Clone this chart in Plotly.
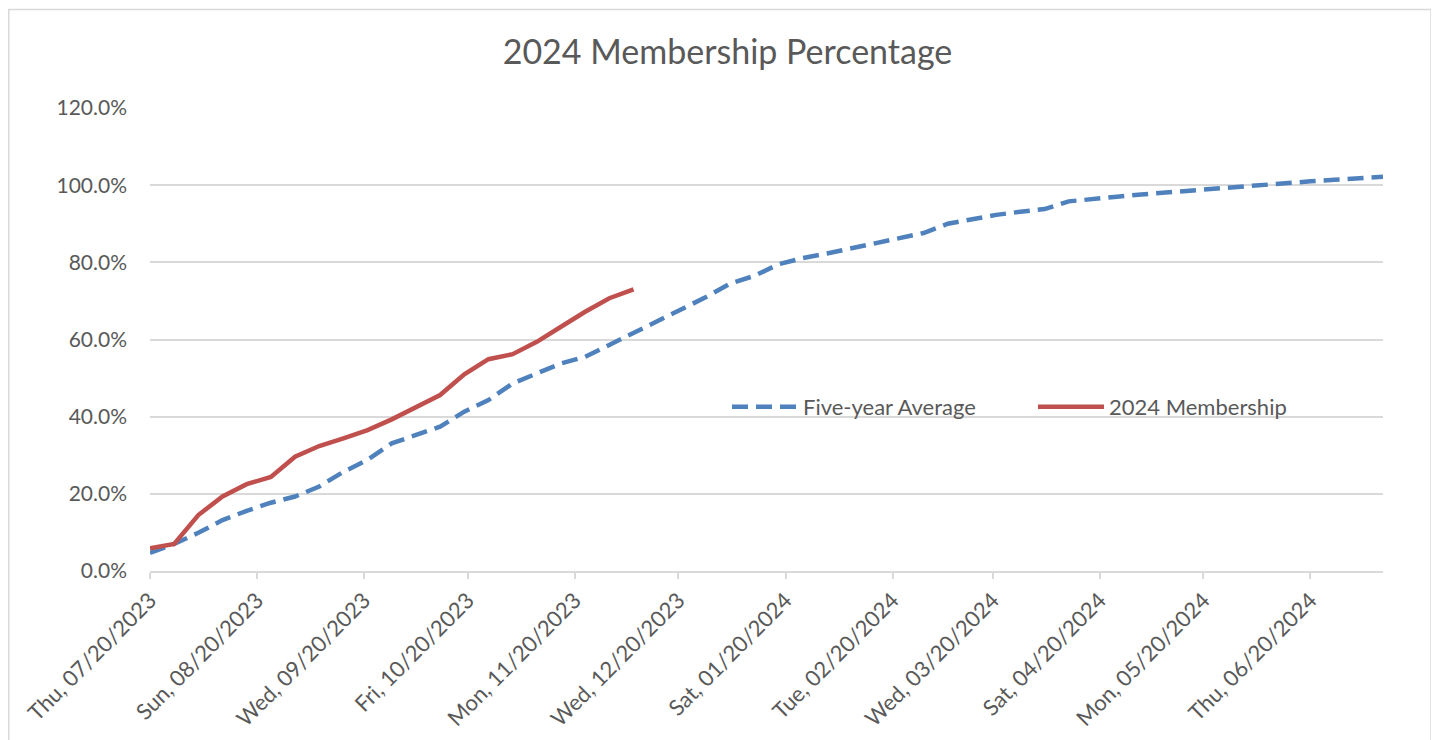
import pandas as pd
import plotly.graph_objects as go

# Weekly dates (Thursdays) from 07/20/2023
dates = pd.date_range("2023-07-20", periods=52, freq="7D")

five_year_avg = [
    4.7, 7.0, 9.9, 13.2, 15.6, 17.7, 19.3, 21.9, 25.7, 28.8,
    33.1, 35.2, 37.4, 41.3, 44.3, 48.6, 51.2, 53.8, 55.5, 58.6,
    61.6, 64.8, 68.0, 71.0, 74.5, 76.5, 79.5, 81.1, 82.3, 83.6,
    85.0, 86.3, 87.6, 90.0, 91.2, 92.3, 93.1, 93.8, 95.8, 96.5,
    97.0, 97.6, 98.1, 98.6, 99.0, 99.6, 100.2, 100.6, 101.0, 101.4,
    101.8, 102.2,
]

membership_2024 = [
    5.9, 7.0, 14.5, 19.3, 22.5, 24.4, 29.6, 32.4, 34.4, 36.5,
    39.3, 42.6, 45.6, 51.0, 54.9, 56.2, 59.4, 63.3, 67.2, 70.7,
    73.0,
]

tick_dates = [
    "2023-07-20", "2023-08-20", "2023-09-20", "2023-10-20", "2023-11-20",
    "2023-12-20", "2024-01-20", "2024-02-20", "2024-03-20", "2024-04-20",
    "2024-05-20", "2024-06-20",
]
tick_labels = [
    "Thu, 07/20/2023", "Sun, 08/20/2023", "Wed, 09/20/2023", "Fri, 10/20/2023",
    "Mon, 11/20/2023", "Wed, 12/20/2023", "Sat, 01/20/2024", "Tue, 02/20/2024",
    "Wed, 03/20/2024", "Sat, 04/20/2024", "Mon, 05/20/2024", "Thu, 06/20/2024",
]

y_ticks = [0, 20, 40, 60, 80, 100, 120]
y_labels = [f"{v:.1f}%" for v in y_ticks]

FONT = "Lato, 'Open Sans', sans-serif"
TXT = "#595959"
GRID = "#d9d9d9"

fig = go.Figure()
fig.add_trace(go.Scatter(
    x=dates, y=five_year_avg, mode="lines", name="Five-year Average",
    line=dict(color="#4F81BD", width=4.5, dash="16px,8px"),
))
fig.add_trace(go.Scatter(
    x=dates[:len(membership_2024)], y=membership_2024, mode="lines",
    name="2024 Membership",
    line=dict(color="#C0504D", width=4.5),
))

W, H = 1439, 740
OFF = 8  # page body margin offset
L, R, T, B = 150 - OFF, 1383 - OFF, 108 - OFF, 571 - OFF
pw, ph = R - L, B - T

def px_x(px):
    return (px - OFF - L) / pw

def px_y(py):
    return (B - (py - OFF)) / ph

fig.update_layout(
    width=W, height=H,
    margin=dict(l=L, r=W - R, t=T, b=H - B, autoexpand=False),
    paper_bgcolor="white", plot_bgcolor="white",
    font=dict(family=FONT, color=TXT, size=21),
    title=dict(text="2024 Membership Percentage", x=0.5, xanchor="center",
               y=1 - (52 - OFF) / H, yanchor="middle", yref="container",
               font=dict(size=34, color=TXT, family=FONT)),
    showlegend=True,
    legend=dict(orientation="h", x=px_x(727), y=px_y(407),
                xanchor="left", yanchor="middle", bgcolor="rgba(0,0,0,0)",
                font=dict(size=22, color=TXT, family=FONT),
                itemwidth=66,
                entrywidth=225, entrywidthmode="pixels",
                traceorder="normal"),
    xaxis=dict(
        type="date",
        range=[dates[0], dates[-1]],
        tickvals=tick_dates, ticktext=tick_labels, tickangle=-45,
        showgrid=False, showline=True, linecolor=GRID, linewidth=1.5,
        ticks="outside", ticklen=6, tickcolor=GRID, tickwidth=1.5,
        tickfont=dict(size=22, color=TXT, family=FONT),
        zeroline=False,
    ),
    yaxis=dict(
        range=[0, 120], tickvals=y_ticks, ticktext=y_labels,
        showgrid=True, gridcolor=GRID, gridwidth=1.5,
        showline=False, zeroline=False, ticks="", ticklabelstandoff=22,
        tickfont=dict(size=21, color=TXT, family=FONT),
    ),
    shapes=[dict(
        type="rect", xref="paper", yref="paper",
        x0=px_x(8.8), x1=px_x(1431),
        y0=px_y(760), y1=px_y(9.5),
        line=dict(color=GRID, width=1.5), fillcolor="rgba(0,0,0,0)", layer="below",
    )],
)

fig.write_html("out.html")
